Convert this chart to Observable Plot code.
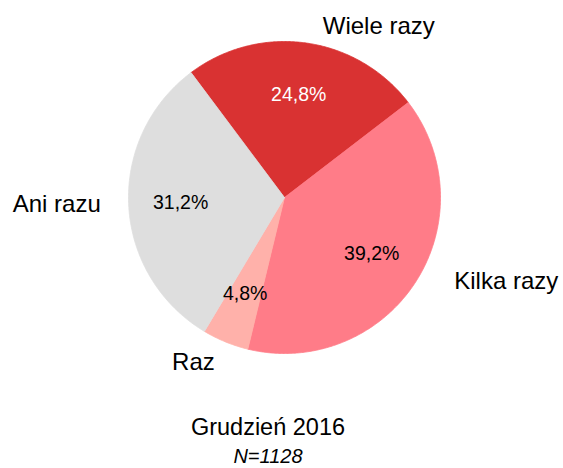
<!DOCTYPE html>
<html>
<head>
<meta charset="utf-8">
<script src="https://cdn.jsdelivr.net/npm/d3@7"></script>
<script src="https://cdn.jsdelivr.net/npm/@observablehq/plot@0.6"></script>
<style>
  html, body { margin: 0; padding: 0; background: #fff; }
  body { font-family: "Liberation Sans", Arial, sans-serif; color: #000; width: 563px; }
  #caption { width: 536px; padding-right: 27px; text-align: center; padding-top: 13px; }
  #caption .t { font-size: 23.5px; line-height: 28px; }
  #caption .n { font-size: 20px; line-height: 30px; font-style: italic; }
</style>
</head>
<body>
<div id="chart"></div>
<div id="caption"><div class="t"></div><div class="n"></div></div>
<script>
// ---- data ----
const categories = ["Wiele razy", "Kilka razy", "Raz", "Ani razu"];
const shares = [24.8, 39.2, 4.8, 31.2];
const percentLabels = ["24,8%", "39,2%", "4,8%", "31,2%"];
const title = "Grudzień 2016";
const sampleNote = "N=1128";

// ---- styles / layout ----
const sliceColors = ["#d93232", "#ff7c88", "#ffb1aa", "#dedede"];
const percentColors = ["#ffffff", "#000000", "#000000", "#000000"];
const outerNudge = { "Wiele razy": [73, -17], "Kilka razy": [91, -1], "Raz": [-32, 20], "Ani razu": [-72, -1] };
const cx = 284, cy = 197, R = 156;
const startDeg = -36.8;
const innerR = 0.667;

const table = categories.map((c, i) => ({
  category: c, share: shares[i], label: percentLabels[i],
  color: sliceColors[i], labelColor: percentColors[i]
}));

const a0 = startDeg * Math.PI / 180;
const arcs = d3.pie().sort(null).value(d => d.share).startAngle(a0).endAngle(a0 + 2 * Math.PI)(table);

function slicePoints(a) {
  const pts = [{x: 0, y: 0}];
  const n = Math.max(2, Math.ceil((a.endAngle - a.startAngle) / (Math.PI / 360)));
  for (let k = 0; k <= n; k++) {
    const t = a.startAngle + (a.endAngle - a.startAngle) * k / n;
    pts.push({x: Math.sin(t), y: Math.cos(t)});
  }
  pts.push({x: 0, y: 0});
  return pts;
}
const mid = a => (a.startAngle + a.endAngle) / 2;

const marks = [];
arcs.forEach(a => {
  marks.push(Plot.line(slicePoints(a), {
    x: "x", y: "y", fill: a.data.color, stroke: a.data.color, strokeWidth: 0.8
  }));
});
arcs.forEach(a => {
  marks.push(Plot.text([a], {
    x: d => innerR * Math.sin(mid(d)), y: d => innerR * Math.cos(mid(d)),
    text: d => d.data.label, fill: a.data.labelColor, fontSize: 19.5
  }));
});
arcs.forEach(a => {
  const [dx, dy] = outerNudge[a.data.category];
  marks.push(Plot.text([a], {
    x: d => Math.sin(mid(d)), y: d => Math.cos(mid(d)),
    text: d => d.data.category, fill: "#000", fontSize: 24, dx, dy
  }));
});

const chart = Plot.plot({
  width: 563, height: 400,
  margin: 0,
  x: {domain: [-1, 1], range: [cx - R, cx + R], axis: null},
  y: {domain: [-1, 1], range: [cy + R, cy - R], axis: null},
  style: {fontFamily: "'Liberation Sans', Arial, sans-serif", background: "#fff", overflow: "visible"},
  marks
});
document.getElementById("chart").appendChild(chart);
document.querySelector("#caption .t").textContent = title;
document.querySelector("#caption .n").textContent = sampleNote;
</script>
</body>
</html>
